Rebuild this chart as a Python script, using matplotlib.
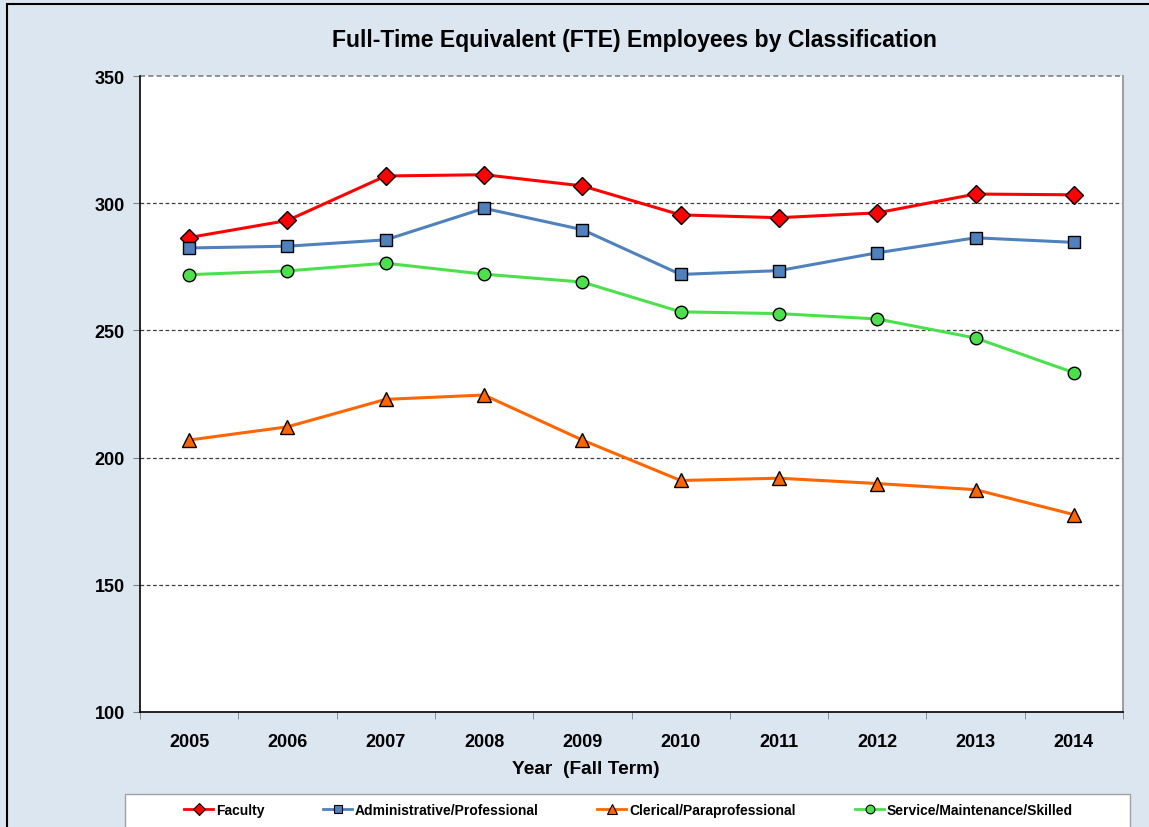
import matplotlib
matplotlib.use("Agg")
import matplotlib.pyplot as plt
from matplotlib.patches import Rectangle
from matplotlib.lines import Line2D

plt.rcParams["font.family"] = ["Liberation Sans", "DejaVu Sans"]

years = ["2005", "2006", "2007", "2008", "2009", "2010", "2011", "2012", "2013", "2014"]
faculty = [286.5, 293.2, 310.7, 311.2, 306.8, 295.4, 294.3, 296.2, 303.6, 303.3]
admin = [282.4, 283.1, 285.6, 298.0, 289.6, 272.0, 273.5, 280.5, 286.4, 284.6]
clerical = [206.9, 212.1, 222.9, 224.6, 206.9, 191.0, 191.9, 189.8, 187.4, 177.6]
service = [271.9, 273.4, 276.4, 272.1, 269.0, 257.3, 256.6, 254.5, 247.0, 233.4]

series = [
    ("Faculty", faculty, "#FF0000", "D", 9),
    ("Administrative/Professional", admin, "#4F81BD", "s", 9),
    ("Clerical/Paraprofessional", clerical, "#FF6600", "^", 10),
    ("Service/Maintenance/Skilled", service, "#4CE04C", "o", 9),
]
legend_x = [184, 323, 597, 855]  # pixel start of each legend handle

W, H = 1149, 828
fig = plt.figure(figsize=(W/100, H/100), dpi=100)
fig.patch.set_facecolor("#DCE6F1")
fig.patches.append(Rectangle((7/W, -0.01), 1.1, 1 - 5/H + 0.01, transform=fig.transFigure,
                             fill=False, edgecolor="#000000", linewidth=1.5, zorder=0))
fig.patches.append(Rectangle((125/W, -0.01), (1130-125)/W, (H-795)/H + 0.01,
                             transform=fig.transFigure, facecolor="white",
                             edgecolor="#A0A0A0", linewidth=1.0, zorder=1))

ax = fig.add_axes([140/W, (H-713)/H, (1123-140)/W, (713-77)/H])
ax.set_facecolor("white")
x = list(range(len(years)))
for name, vals, col, mk, ms in series:
    ax.plot(x, vals, color=col, linewidth=2.2, marker=mk, markersize=ms,
            markerfacecolor=col, markeredgecolor="black", markeredgewidth=1.0,
            label=name, zorder=3)

ax.set_xlim(-0.5, len(years) - 0.5)
ax.set_ylim(100, 350)
ax.set_yticks([100, 150, 200, 250, 300, 350])
ax.set_yticklabels(["100", "150", "200", "250", "300", "350"], fontsize=13, fontweight="bold")
ax.set_xticks(x)
ax.set_xticklabels(years, fontsize=13, fontweight="bold")
ax.tick_params(axis="x", length=0, pad=15)
ax.set_xticks([i - 0.5 for i in range(len(years) + 1)], minor=True)
ax.tick_params(axis="x", which="minor", length=5, color="#808080", direction="out")
ax.tick_params(axis="y", length=5, color="#808080", direction="out", pad=6)

for yv in [150, 200, 250, 300]:
    ax.axhline(yv, color="#404040", linestyle=(0, (3, 2)), linewidth=0.9, zorder=1)
ax.axhline(350, color="#808080", linestyle=(0, (3, 2)), linewidth=1.2, zorder=1, clip_on=False)

ax.spines["top"].set_visible(False)
ax.spines["right"].set_color("#A0A0A0")
ax.spines["right"].set_linewidth(1.5)
ax.spines["left"].set_color("black")
ax.spines["left"].set_linewidth(1.2)
ax.spines["bottom"].set_color("black")
ax.spines["bottom"].set_linewidth(1.2)

ax.set_xlabel("Year  (Fall Term)", fontsize=13.8, fontweight="bold")
ax.xaxis.label.set_va("center")
ax.xaxis.set_label_coords((586-140)/983, ((H-770) - (H-713))/636)

fig.text(634/W, 1 - 40/H, "Full-Time Equivalent (FTE) Employees by Classification",
         ha="center", va="center", fontsize=16.6, fontweight="bold")

legfont = {"size": 10, "weight": "bold",
           "family": ["Liberation Sans Narrow", "Liberation Sans", "DejaVu Sans"]}
for (name, vals, col, mk, ms), lx in zip(series, legend_x):
    h = Line2D([], [], color=col, linewidth=2.0, marker=mk, markersize=ms*0.7,
               markerfacecolor=col, markeredgecolor="black", markeredgewidth=0.8)
    lg = fig.legend([h], [name], loc="center left", bbox_to_anchor=(lx/W, 1 - 811/H),
                    frameon=False, prop=legfont, handlelength=2.1, handletextpad=0.2,
                    borderpad=0, borderaxespad=0)
    lg.set_zorder(5)

fig.savefig("out.png", dpi=100, facecolor=fig.get_facecolor())
